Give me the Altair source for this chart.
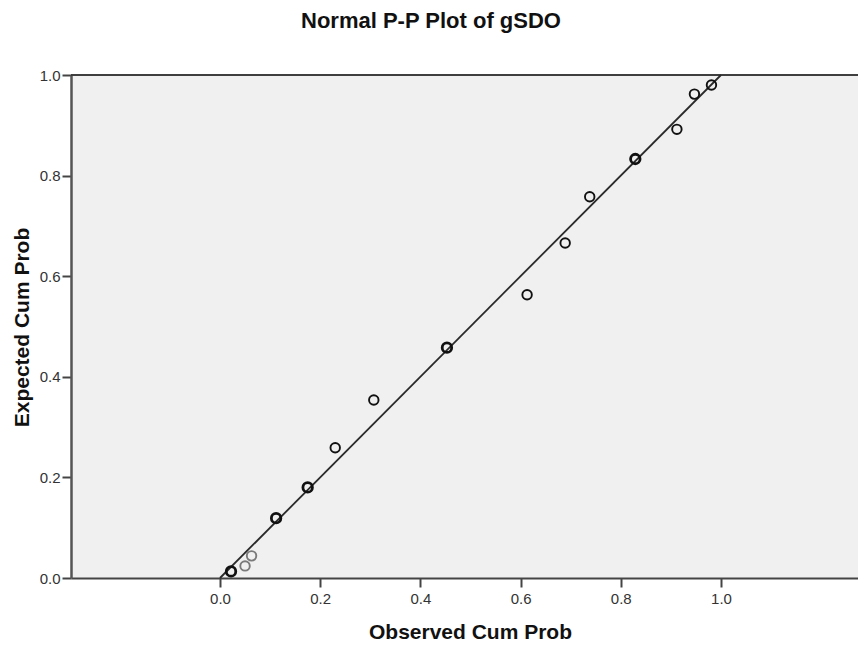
import altair as alt
import pandas as pd

# --- data ---
observed = [0.022, 0.050, 0.063, 0.112, 0.175, 0.230, 0.307, 0.453,
            0.613, 0.689, 0.738, 0.829, 0.912, 0.947, 0.981]
expected = [0.013, 0.024, 0.044, 0.119, 0.180, 0.259, 0.354, 0.458,
            0.563, 0.666, 0.758, 0.833, 0.892, 0.962, 0.980]
cases = [2, 1, 1, 2, 2, 1, 1, 2, 1, 1, 1, 2, 1, 1, 1]
line_x = [0.0, 1.0]
line_y = [0.0, 1.0]
tick_vals = [0.0, 0.2, 0.4, 0.6, 0.8, 1.0]

W, H = 787, 503
x_dom = [-0.2974, 1.2735]
FONT = "Liberation Sans"

pts = pd.DataFrame({"obs": observed, "exp": expected, "cases": cases})
ref = pd.DataFrame({"obs": line_x, "exp": line_y})

xs = alt.Scale(domain=x_dom, nice=False, zero=False)
ys = alt.Scale(domain=[0, 1], nice=False, zero=False)

xax = alt.Axis(title="Observed Cum Prob", values=tick_vals, format=".1f", grid=False,
               tickSize=9, tickWidth=2, tickColor="#444", labelPadding=4,
               labelFontSize=15, labelColor="#333", labelFont=FONT,
               domainColor="#444", domainWidth=2,
               titleFontSize=21, titleFontWeight="bold", titleColor="#111", titleFont=FONT,
               titleX=399, titleY=54, titleBaseline="middle")
yax = alt.Axis(title="Expected Cum Prob", values=tick_vals, format=".1f", grid=False,
               tickSize=9, tickWidth=2, tickColor="#444", labelPadding=2,
               labelFontSize=15, labelColor="#333", labelFont=FONT,
               domainColor="#555", domainWidth=2.5,
               titleFontSize=21, titleFontWeight="bold", titleColor="#111", titleFont=FONT,
               titleX=-49, titleY=252, titleBaseline="middle")

border = alt.Chart(ref).mark_rule(color="#333", strokeWidth=1.5).encode(
    x=alt.value(0), x2=alt.value(W), y=alt.value(0))

line = alt.Chart(ref).mark_line(color="#2a2a2a", strokeWidth=1.8).encode(
    x=alt.X("obs:Q", scale=xs, axis=xax),
    y=alt.Y("exp:Q", scale=ys, axis=yax))

points = alt.Chart(pts).mark_point(shape="circle", filled=False, size=90, opacity=1).encode(
    x=alt.X("obs:Q", scale=xs),
    y=alt.Y("exp:Q", scale=ys),
    strokeWidth=alt.StrokeWidth("cases:Q", scale=alt.Scale(domain=[1, 2], range=[1.9, 2.8]), legend=None),
    color=alt.condition("datum.obs > 0.04 && datum.obs < 0.07", alt.value("#7a7a7a"), alt.value("#111")))

chart = alt.layer(border, line, points).properties(
    width=W, height=H,
    title=alt.TitleParams("Normal P-P Plot of gSDO", fontSize=22, font=FONT, fontWeight="bold",
                          color="#111", anchor="middle", dx=-33.5, offset=35),
    autosize=alt.AutoSizeParams(type="none"),
    padding={"left": 63, "top": 67, "right": 0, "bottom": 64},
    background="white",
).configure_view(stroke=None, fill="#F0F0F0")

chart.save("out.html", embed_options={"renderer": "svg", "actions": False})
